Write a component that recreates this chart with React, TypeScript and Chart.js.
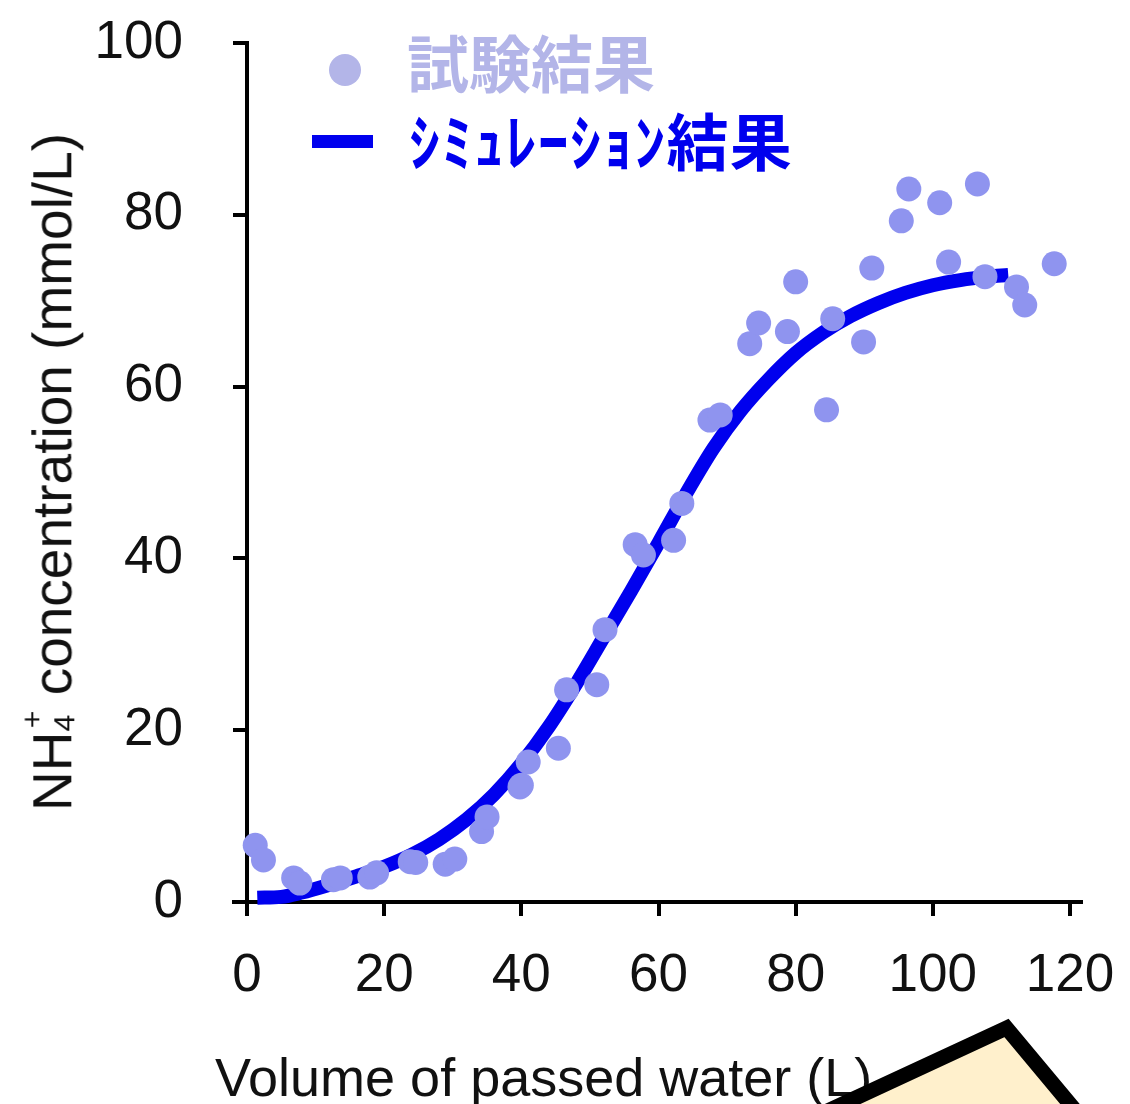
import { useEffect, useRef } from "react"
import { Chart, registerables } from "chart.js"

Chart.register(...registerables)

// Test results (scatter)
const testVolume = [
  1.2, 2.4, 6.8, 7.7, 12.6, 13.6, 17.9, 18.9, 23.8, 24.6, 28.9, 30.3, 34.2, 35.0, 39.8,
  40.0, 41.0, 45.4, 46.6, 51.0, 52.2, 56.6, 57.8, 62.2, 63.4, 67.5, 69.0,
  73.3, 74.6, 78.8, 80.0, 84.5, 85.4, 89.9, 91.1, 95.4, 96.5, 101.0, 102.3, 106.5, 107.6,
  112.2, 113.4, 117.7,
]
const testConc = [
  6.6, 4.9, 2.8, 2.2, 2.6, 2.8, 2.9, 3.4, 4.7, 4.6, 4.4, 5.0, 8.2, 9.9, 13.4,
  13.6, 16.3, 17.9, 24.7, 25.3, 31.7, 41.6, 40.4, 42.1, 46.4, 56.1, 56.7,
  65.0, 67.4, 66.4, 72.2, 57.3, 67.9, 65.2, 73.8, 79.3, 83.0, 81.4, 74.5, 83.6, 72.8,
  71.6, 69.5, 74.3,
]

// Simulation results (line)
const simVolume = [
  1.5, 5, 8, 12, 16, 20, 24, 28, 32, 36, 40, 44, 48, 52, 56, 60, 64,
  68, 72, 76, 80, 84, 88, 92, 96, 100, 104, 108, 111,
]
const simConc = [
  0.5, 0.6, 1.1, 2.0, 3.0, 4.1, 5.5, 7.3, 9.6, 12.5, 16.1, 20.4, 25.4, 30.8, 36.2, 41.8, 47.5,
  52.8, 57.2, 60.8, 63.9, 66.3, 68.2, 69.7, 70.9, 71.8, 72.4, 72.8, 73.0,
]

const xTickValues = [0, 20, 40, 60, 80, 100, 120]
const yTickValues = [0, 20, 40, 60, 80, 100]

const testLabel = "試験結果"
const simLabel = "ｼﾐｭﾚｰｼｮﾝ結果"

const tickFont = { family: "'Liberation Sans', Arial, sans-serif", size: 53 }

// x axis line that runs a little past both ends of the plot
const axisLinePlugin = {
  id: "axisLine",
  beforeDatasetsDraw(chart: any) {
    const { ctx, chartArea } = chart
    const y = chart.scales.y.getPixelForValue(0)
    ctx.save()
    ctx.strokeStyle = "#000"
    ctx.lineWidth = 4
    ctx.beginPath()
    ctx.moveTo(chartArea.left - 15, y)
    ctx.lineTo(chartArea.right + 13, y)
    ctx.stroke()
    ctx.restore()
  },
}

function NH4Chart() {
  const chartRef = useRef<HTMLCanvasElement>(null)
  const chartInstance = useRef<Chart | null>(null)

  useEffect(() => {
    if (!chartRef.current) return
    if (chartInstance.current) chartInstance.current.destroy()

    const ctx = chartRef.current.getContext("2d")
    if (!ctx) return

    chartInstance.current = new Chart(ctx, {
      type: "scatter",
      data: {
        datasets: [
          {
            label: testLabel,
            data: testVolume.map((x, i) => ({ x, y: testConc[i] })),
            backgroundColor: "#8f94ef",
            borderWidth: 0,
            pointRadius: 12.5,
            clip: false,
            order: 0,
          },
          {
            type: "line",
            label: simLabel,
            data: simVolume.map((x, i) => ({ x, y: simConc[i] })),
            borderColor: "#0000ee",
            borderWidth: 14,
            pointRadius: 0,
            cubicInterpolationMode: "monotone",
            fill: false,
            clip: false,
            order: 1,
          } as any,
        ],
      },
      options: {
        animation: false,
        responsive: true,
        maintainAspectRatio: false,
        layout: { padding: { top: 43, right: 60, left: 0, bottom: 0 } },
        plugins: {
          legend: { display: false },
          tooltip: { enabled: false },
        },
        scales: {
          x: {
            type: "linear",
            min: 0,
            max: 120,
            afterBuildTicks: (scale: any) => {
              scale.ticks = xTickValues.map((value) => ({ value }))
            },
            afterFit: (scale: any) => {
              scale.height = 202
              scale.paddingLeft = 0
              scale.paddingRight = 0
            },
            border: { display: false },
            grid: {
              drawOnChartArea: false,
              drawTicks: true,
              tickLength: 14,
              tickWidth: 4,
              tickColor: "#000",
              lineWidth: 4,
              color: "#000",
            },
            ticks: { font: tickFont, color: "#111", padding: 29, maxRotation: 0 },
          },
          y: {
            type: "linear",
            min: 0,
            max: 100,
            afterBuildTicks: (scale: any) => {
              scale.ticks = yTickValues.map((value) => ({ value }))
            },
            afterFit: (scale: any) => {
              scale.width = 247
              // the big label gap should not push the plot down
              scale.paddingTop = 0
              scale.paddingBottom = 0
            },
            border: { display: true, width: 4, color: "#000" },
            grid: {
              drawOnChartArea: false,
              drawTicks: true,
              tickLength: 14,
              tickWidth: 4,
              tickColor: "#000",
              lineWidth: 4,
              color: "#000",
            },
            ticks: { font: tickFont, color: "#111", padding: 50 },
          },
        },
      },
      plugins: [axisLinePlugin],
    })

    return () => {
      if (chartInstance.current) {
        chartInstance.current.destroy()
        chartInstance.current = null
      }
    }
  }, [])

  return (
    <div style={{ position: "absolute", left: 0, top: 0, width: 1130, height: 1104 }}>
      <canvas ref={chartRef} />
    </div>
  )
}

export default function App() {
  const sans = "'Liberation Sans', Arial, sans-serif"
  const jp = "'Noto Sans CJK JP', sans-serif"
  return (
    <div
      style={{
        position: "fixed",
        left: 0,
        top: 0,
        width: 1130,
        height: 1104,
        overflow: "hidden",
        background: "#fff",
      }}
    >
      <NH4Chart />

      {/* legend */}
      <div
        style={{
          position: "absolute",
          left: 329,
          top: 54,
          width: 32,
          height: 32,
          borderRadius: "50%",
          background: "#b3b5e8",
        }}
      />
      <div
        style={{
          position: "absolute",
          left: 407,
          top: 30,
          font: `700 62px/62px ${jp}`,
          color: "#b3b5e8",
          whiteSpace: "nowrap",
        }}
      >
        {testLabel}
      </div>
      <div
        style={{
          position: "absolute",
          left: 312,
          top: 135,
          width: 61,
          height: 13,
          background: "#0000ee",
        }}
      />
      <div
        style={{
          position: "absolute",
          left: 409,
          top: 108,
          font: `700 62px/62px ${jp}`,
          letterSpacing: 1.2,
          color: "#0000ee",
          whiteSpace: "nowrap",
        }}
      >
        {simLabel}
      </div>

      {/* y axis title */}
      <div
        style={{
          position: "absolute",
          left: 48,
          top: 472,
          transform: "translate(-50%, -50%) rotate(-90deg)",
          font: `55px/55px ${sans}`,
          color: "#111",
          whiteSpace: "nowrap",
        }}
      >
        NH
        <span style={{ fontSize: "0.55em", verticalAlign: "-0.12em" }}>4</span>
        <span style={{ fontSize: "0.55em", verticalAlign: "0.95em", marginLeft: "-0.45em" }}>+</span>
        {" "}concentration (mmol/L)
      </div>

      {/* x axis title */}
      <div
        style={{
          position: "absolute",
          left: 215,
          top: 1050,
          font: `54px/54px ${sans}`,
          color: "#111",
          whiteSpace: "nowrap",
        }}
      >
        Volume of passed water (L)
      </div>

      {/* callout shape at the bottom right */}
      <svg
        width={1130}
        height={1104}
        style={{ position: "absolute", left: 0, top: 0, pointerEvents: "none" }}
      >
        <polygon
          points="1006.5,1028 765,1140 1100,1140"
          fill="#fff0cc"
          stroke="#000"
          strokeWidth={15}
          strokeLinejoin="miter"
        />
      </svg>
    </div>
  )
}
